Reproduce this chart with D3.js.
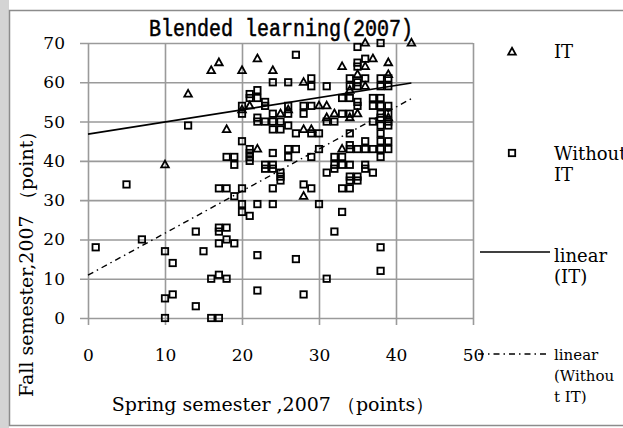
<!DOCTYPE html>
<html><head><meta charset="utf-8">
<script src="https://cdn.jsdelivr.net/npm/d3@7"></script>
<style>body{margin:0;background:#fff}</style>
</head><body>
<svg id="c" width="623" height="428"></svg>
<script>
const chartTitle = "Blended learning(2007)";
const xTitle = "Spring semester ,2007 （points）";
const yTitle = "Fall semester,2007 （point）";
const xTicks = [0, 10, 20, 30, 40, 50];
const yTicks = [0, 10, 20, 30, 40, 50, 60, 70];

// IT group: [spring, fall]
const itPoints = [
  [10,39],[13,57],[16,63],[17,65],[18,48],[20,63],[20,53],[21,54],[22,66],[22,43],
  [24,63],[25,52],[26,53],[28,60],[28,48],[29,48],[28,31],[30,54],[31,54],[31,51],
  [32,52],[33,64],[33,43],[34,58],[34,51],[35,62],[35,52],[36,70],[36,64],[36,59],
  [37,66],[39,65],[39,62],[39,51],[42,70]
];
// Without IT group: [spring, fall]
const noItPoints = [
  [1,18],[5,34],[7,20],[10,17],[11,14],[10,5],[11,6],[10,0],[14,3],[16,0],[17,0],
  [14,22],[15,17],[16,10],[17,11],[18,10],[17,23],[17,22],[18,23],[17,19],[18,20],[19,19],
  [13,49],[17,33],[18,33],[20,33],[19,31],[20,29],[20,27],[21,26],[22,29],[22,16],[22,7],
  [18,41],[19,41],[19,39],[21,43],[21,41],[21,40],[20,45],
  [20,54],[20,52],[21,57],[22,58],[22,56],[21,56],[23,55],[23,54],[24,52],[26,54],[26,52],
  [28,54],[29,54],[28,52],[24,60],[26,60],[29,61],[29,59],[27,67],[22,51],
  [22,50],[23,50],[24,50],[25,50],[24,48],[25,48],[26,49],[27,47],[29,47],[30,47],
  [21,42],[24,42],[26,43],[26,41],[27,43],[29,41],[30,43],[23,39],[23,38],[24,39],[24,38],
  [25,37],[25,36],[24,33],[28,34],[29,33],[24,29],[30,29],[25,35],
  [35,69],[38,70],[36,66],[35,65],[35,64],[31,59],[34,61],[35,60],[36,61],[34,59],[35,59],
  [38,61],[39,61],[38,59],[39,59],[33,56],[34,56],[35,55],[35,54],[37,56],[37,54],
  [38,56],[38,54],[39,54],[38,52],[39,52],[33,52],[34,52],
  [31,50],[32,50],[37,50],[38,51],[39,50],[38,49],[39,49],[38,47],[38,45],[39,45],
  [38,43],[39,43],[38,41],[34,47],[36,45],[34,44],[34,43],[35,43],[36,43],[37,43],
  [32,41],[33,41],[32,39],[33,39],[34,39],[36,39],[36,38],[37,37],[31,37],[32,38],
  [34,36],[35,36],[33,33],[34,33],[34,35],[35,35],[33,27],[32,22],[27,15],
  [38,18],[38,12],[31,10],[28,6]
];
// linear trend lines: [intercept, slope]
const itTrend = [46.8, 0.31];
const noItTrend = [10.9, 1.07];
const trendRange = [0, 42];

const legendLabels = [["IT"], ["Without", "IT"], ["linear", "(IT)"], ["linear", "(Withou", "t IT)"]];

const svg = d3.select("#c");
const serif = "'DejaVu Serif', 'Liberation Serif', serif";

// frame
svg.append("rect").attr("x", 0).attr("y", 0).attr("width", 9).attr("height", 428).attr("fill", "#d4d4d4");
svg.append("rect").attr("x", 9.5).attr("y", 10.5).attr("width", 620).attr("height", 415)
  .attr("fill", "#fff").attr("stroke", "#8c8c8c").attr("stroke-width", 1.5);

const x = d3.scaleLinear().domain([0, 50]).range([88, 473]);
const y = d3.scaleLinear().domain([0, 70]).range([318, 43]);

// axes / grid
const gy = svg.append("g").attr("transform", "translate(80,0)")
  .call(d3.axisLeft(y).tickValues(yTicks).tickSizeInner(-393).tickSizeOuter(0).tickPadding(15));
const gx = svg.append("g").attr("transform", "translate(0,325)")
  .call(d3.axisBottom(x).tickValues(xTicks).tickSizeInner(-282).tickSizeOuter(0));
[gx, gy].forEach(g => {
  g.select(".domain").remove();
  g.selectAll(".tick line").attr("stroke", "#9a9a9a").attr("stroke-width", 1.6);
  g.selectAll(".tick text").attr("fill", "#000").style("font-family", serif).style("font-size", "17px");
});
gx.selectAll(".tick text").attr("y", 30).attr("dy", "0.35em");

// trend lines
const line = d3.line().x(d => x(d[0])).y(d => y(d[1]));
const trendPts = t => trendRange.map(v => [v, t[0] + t[1] * v]);
svg.append("path").attr("d", line(trendPts(itTrend))).attr("fill", "none")
  .attr("stroke", "#000").attr("stroke-width", 1.6);
svg.append("path").attr("d", line(trendPts(noItTrend))).attr("fill", "none")
  .attr("stroke", "#000").attr("stroke-width", 1.4).attr("stroke-dasharray", "6,4,1.5,4");

// markers
const triPath = "M0,-4.2L3.8,2.6L-3.8,2.6Z";
svg.append("g").selectAll("rect").data(noItPoints).join("rect")
  .attr("x", d => x(d[0]) - 3.2).attr("y", d => y(d[1]) - 3.2)
  .attr("width", 6.4).attr("height", 6.4)
  .attr("fill", "none").attr("stroke", "#000").attr("stroke-width", 1.8);
svg.append("g").selectAll("path").data(itPoints).join("path")
  .attr("transform", d => `translate(${x(d[0])},${y(d[1])})`)
  .attr("d", triPath).attr("fill", "none").attr("stroke", "#000").attr("stroke-width", 1.8);

// title
svg.append("text").attr("x", 281).attr("y", 0)
  .attr("transform", "translate(0,36) scale(1,1.15)")
  .attr("text-anchor", "middle").style("font-family", "'Liberation Mono', monospace")
  .style("font-size", "20px").attr("stroke", "#000").attr("stroke-width", 0.45).text(chartTitle);

// axis titles
svg.append("text").attr("x", 273).attr("y", 411).attr("text-anchor", "middle")
  .style("font-family", serif).style("font-size", "19px").text(xTitle);
svg.append("text").attr("transform", "translate(33,397) rotate(-90)").attr("text-anchor", "start")
  .style("font-family", serif).style("font-size", "19px").text(yTitle);

// legend
const leg = svg.append("g");
leg.append("path").attr("transform", "translate(512,52)").attr("d", triPath)
  .attr("fill", "none").attr("stroke", "#000").attr("stroke-width", 1.8);
leg.append("rect").attr("x", 508.8).attr("y", 149.8).attr("width", 6.4).attr("height", 6.4)
  .attr("fill", "none").attr("stroke", "#000").attr("stroke-width", 1.8);
leg.append("line").attr("x1", 480).attr("x2", 550).attr("y1", 252).attr("y2", 252)
  .attr("stroke", "#000").attr("stroke-width", 1.6);
leg.append("line").attr("x1", 478).attr("x2", 550).attr("y1", 354).attr("y2", 354)
  .attr("stroke", "#000").attr("stroke-width", 1.4).attr("stroke-dasharray", "6,4,1.5,4");
const legY = [58, 160, 262, 360];
const legSize = [18, 18, 18, 15];
legendLabels.forEach((lines, i) => {
  lines.forEach((s, j) => {
    leg.append("text").attr("x", 554).attr("y", legY[i] + j * 21)
      .style("font-family", serif).style("font-size", legSize[i] + "px").text(s);
  });
});
</script>
</body></html>
